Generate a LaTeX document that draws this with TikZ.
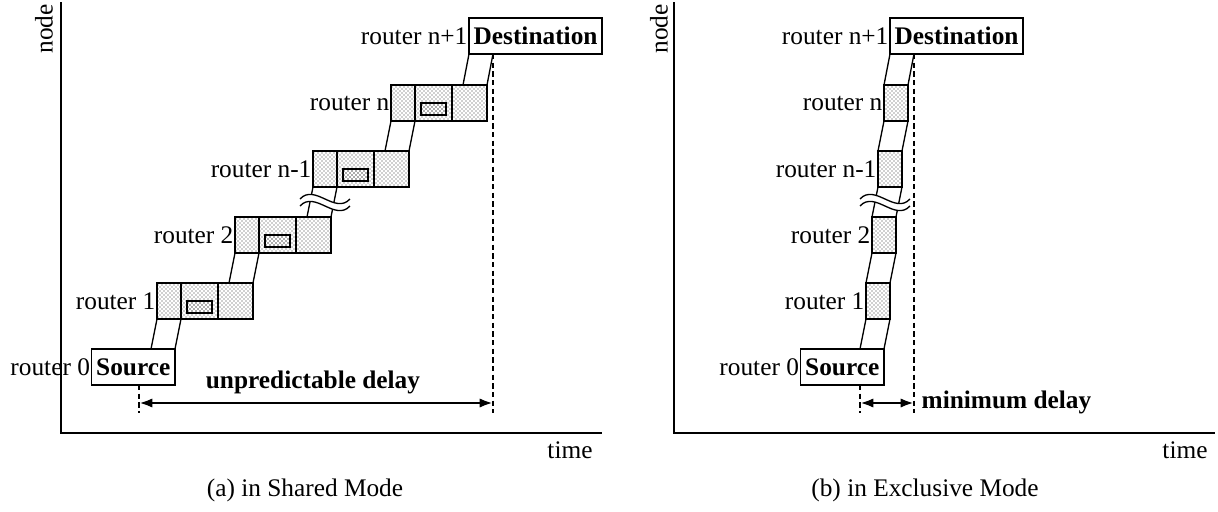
\documentclass[tikz,border=0pt]{standalone}
\usepackage{fontspec}
\setmainfont{Liberation Serif}
\usetikzlibrary{positioning,arrows.meta,calc,patterns}
\newcommand{\figfont}{\fontsize{19}{23}\selectfont}
\tikzset{
cell/.style={
draw,
line width=1.1pt,
outer sep=0pt,
inner sep=0pt,
minimum height=27pt,
pattern=crosshatch dots,
pattern color=black!80
},
hdcell/.style={cell,minimum width=18pt},
wtcell/.style={cell,minimum width=27.75pt},
txcell/.style={cell,minimum width=26.25pt},
buf/.style={
draw,
line width=1.1pt,
inner sep=0pt,
minimum width=18.75pt,
minimum height=9pt,
pattern=crosshatch dots,
pattern color=black!80
},
endbox/.style={
draw,
line width=1.1pt,
outer sep=0pt,
inner xsep=3.5pt,
inner ysep=0pt,
minimum height=27pt,
font=\figfont\bfseries
},
rlabel/.style={inner sep=1pt},
axis/.style={line width=1.1pt},
link/.style={line width=1pt},
guide/.style={dash pattern=on 4pt off 2.5pt,line width=0.9pt},
delay/.style={
{Latex[length=10pt,width=7pt]}-{Latex[length=10pt,width=7pt]},
line width=2.2pt
},
brk/.pic={
\fill[white] (-25,0) .. controls (-10,-16) and (10,16) .. (25,0)
  -- (25,7) .. controls (10,23) and (-10,-9) .. (-25,7) -- cycle;
\draw[link] (-25,0) .. controls (-10,-16) and (10,16) .. (25,0);
\draw[link] (-25,7) .. controls (-10,-9) and (10,23) .. (25,7);
}
}

\begin{document}
\begin{tikzpicture}[x=0.75pt,y=-0.75pt,font=\figfont]
\useasboundingbox (0,0) rectangle (1218,511);

% (a) shared mode
\draw[axis] (61,2) -- (61,433) -- (602,433);
\node[rotate=90] (nodeA) at (44,29) {node};
\node (timeA) at (570,450) {time};
\node (capA) at (305,490) {(a) in Shared Mode};

\node[endbox,anchor=south east] (srcA) at (175,385) {Source};
\node[rlabel,left=0pt of srcA] (lsrcA) {router 0};

\foreach \r/\x/\y/\t in {1/157/319/1,2/235/253/2,3/313/187/n-1,4/391/121/n}{
\node[hdcell,anchor=south west] (h\r) at (\x,\y) {};
\node[wtcell,anchor=west] (w\r) at (h\r.east) {};
\node[txcell,anchor=west] (t\r) at (w\r.east) {};
\node[buf] (b\r) at ($(w\r.center)+(0,6)$) {};
\node[rlabel,left=0pt of h\r] (lh\r) {router \t};
}

\node[endbox,anchor=south west] (dstA) at (469,54) {Destination};
\node[rlabel,left=0pt of dstA] (ldstA) {router n+1};

\foreach \p/\q in {srcA/h1,t1/h2,t2/h3,t3/h4,t4/dstA}{
\draw[link] ($(\p.north east)+(-24,0)$) -- (\q.south west);
\draw[link] (\p.north east) -- ($(\q.south west)+(24,0)$);
}
\pic at (325,199) {brk};

\coordinate (aL) at (139,413);
\coordinate (aR) at (493,413);
\draw[guide] (srcA.south -| aL) -- (aL);
\draw[guide] ($(dstA.south west)+(24,0)$) -- (aR);
\draw[delay] ($(aL)+(0,-10)$) -- ($(aR)+(0,-10)$);
\node[font=\figfont\bfseries] (dlyA) at (313,382) {unpredictable delay};

% (b) exclusive mode
\draw[axis] (674,2) -- (674,433) -- (1215,433);
\node[rotate=90] (nodeB) at (659,29) {node};
\node (timeB) at (1185,450) {time};
\node (capB) at (925,490) {(b) in Exclusive Mode};

\node[endbox,anchor=south east] (srcB) at (884,385) {Source};
\node[rlabel,left=0pt of srcB] (lsrcB) {router 0};

\foreach \r/\x/\y/\t in {1/866/319/1,2/872/253/2,3/878/187/n-1,4/884/121/n}{
\node[hdcell,anchor=south west] (e\r) at (\x,\y) {};
\node[rlabel,left=0pt of e\r] (le\r) {router \t};
}

\node[endbox,anchor=south west] (dstB) at (890,54) {Destination};
\node[rlabel,left=0pt of dstB] (ldstB) {router n+1};

\foreach \p/\q in {srcB/e1,e1/e2,e2/e3,e3/e4,e4/dstB}{
\draw[link] ($(\p.north east)+(-24,0)$) -- (\q.south west);
\draw[link] (\p.north east) -- ($(\q.south west)+(24,0)$);
}
\pic at (885,199) {brk};

\coordinate (bL) at (860,413);
\coordinate (bR) at (914,413);
\draw[guide] (srcB.south -| bL) -- (bL);
\draw[guide] ($(dstB.south west)+(24,0)$) -- (bR);
\draw[delay] ($(bL)+(0,-10)$) -- ($(bR)+(0,-10)$);
\node[font=\figfont\bfseries,anchor=west] (dlyB) at (917,402) {minimum delay};
\end{tikzpicture}
\end{document}
